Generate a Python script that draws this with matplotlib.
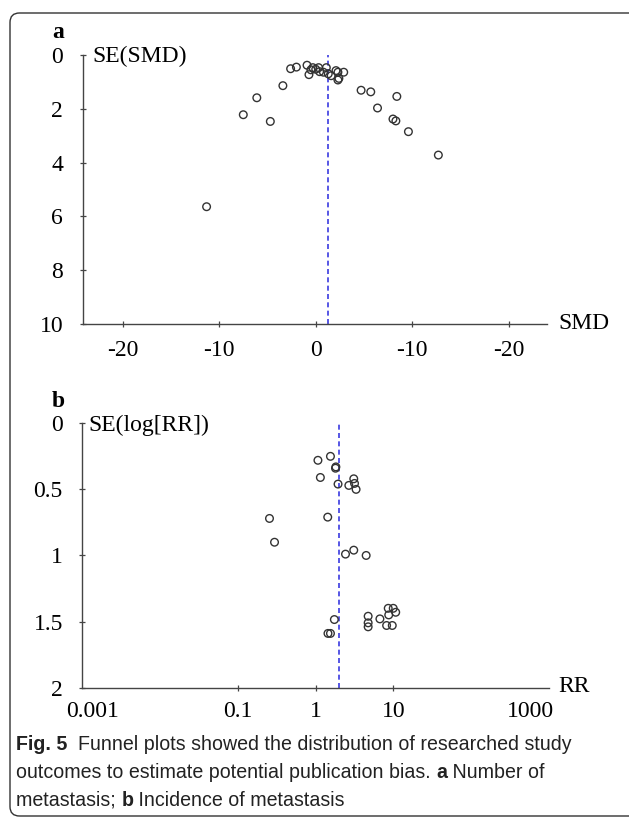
import matplotlib
matplotlib.use("Agg")
import matplotlib.pyplot as plt
from matplotlib.patches import FancyBboxPatch
import matplotlib.transforms as mtransforms

W, H = 629, 818
DPI = 100

# ---------------- data ----------------
# Panel a: SMD vs SE(SMD)
smd = [-6.1, -7.5, -11.3, -4.7, -3.4, -2.6, -2.0, -0.9, -0.7, -0.3, 0.0, 0.3, 0.4,
       0.8, 1.1, 1.6, 2.1, 2.3, 2.9, 2.3, 2.4, 4.7, 5.7, 8.4, 6.4, 8.0, 8.3, 9.6, 12.7,
       -0.5, 1.3]
se_smd = [1.59, 2.22, 5.64, 2.47, 1.14, 0.51, 0.45, 0.38, 0.73, 0.47, 0.53, 0.47, 0.62,
          0.64, 0.47, 0.77, 0.58, 0.64, 0.64, 0.93, 0.87, 1.31, 1.37, 1.54, 1.97, 2.38,
          2.45, 2.85, 3.72, 0.55, 0.70]
smd_pooled = 1.23
smd_ticks = [-20, -10, 0, 10, 20]
smd_ticklabels = ["-20", "-10", "0", "-10", "-20"]
se_smd_ticks = [0, 2, 4, 6, 8, 10]

# Panel b: RR vs SE(log[RR])
rr = [1.07, 1.55, 1.80, 1.82, 1.15, 1.94, 2.67, 3.09, 3.16, 3.31, 0.255, 1.43, 0.296,
      2.42, 3.09, 4.46, 1.74, 1.44, 1.55, 4.73, 4.73, 4.73, 6.7, 8.57, 9.94, 10.7,
      8.7, 8.17, 9.66]
se_logrr = [0.28, 0.25, 0.34, 0.33, 0.41, 0.46, 0.47, 0.42, 0.455, 0.50, 0.72, 0.71,
            0.90, 0.99, 0.96, 1.00, 1.485, 1.59, 1.59, 1.46, 1.51, 1.54, 1.48, 1.40,
            1.40, 1.43, 1.45, 1.53, 1.53]
rr_pooled = 2.0
rr_ticks = [0.1, 1, 10]
rr_ticklabels = ["0.1", "1", "10"]
rr_endlabels = ["0.001", "1000"]
se_rr_ticks = [0, 0.5, 1, 1.5, 2]
se_rr_ticklabels = ["0", "0.5", "1", "1.5", "2"]

# ---------------- figure ----------------
fig = plt.figure(figsize=(W / DPI, H / DPI), dpi=DPI)

def fx(px):
    return px / W

def fy(py):
    return 1 - py / H

def axes_px(left, top, right, bottom):
    return fig.add_axes([fx(left), fy(bottom), (right - left) / W, (bottom - top) / H])

serif = ["Liberation Serif", "DejaVu Serif"]
FS = 17
axcol = "#444444"
ptcol = "#333333"
dashcol = "#3a3ae0"

def style(ax):
    for s in ["top", "right"]:
        ax.spines[s].set_visible(False)
    for s in ["left", "bottom"]:
        ax.spines[s].set_color(axcol)
        ax.spines[s].set_linewidth(1.0)
    ax.tick_params(direction="inout", length=4, width=0.9, color=axcol,
                   labelsize=FS, labelcolor="black")
    ax.tick_params(axis="y", pad=12)
    for lab in ax.get_xticklabels() + ax.get_yticklabels():
        lab.set_family(serif)
    ax.patch.set_alpha(0)

# Panel a
axa = axes_px(82.5, 55, 547, 324)
axa.scatter(smd, se_smd, s=30, facecolors="none", edgecolors=ptcol, linewidths=1.0, zorder=3)
axa.axvline(smd_pooled, ymin=0, ymax=1, color=dashcol, lw=1.2, ls=(0, (3, 2)), zorder=2)
axa.set_xlim(-24.15, 23.95)
axa.set_ylim(10, 0)
axa.set_xticks(smd_ticks)
axa.set_xticklabels(smd_ticklabels)
axa.set_yticks(se_smd_ticks)
axa.set_yticklabels([str(t) for t in se_smd_ticks])
style(axa)
axa.tick_params(axis="x", pad=9.5)

# Panel b
axb = axes_px(82.3, 423.3, 549, 687.6)
axb.scatter(rr, se_logrr, s=30, facecolors="none", edgecolors=ptcol, linewidths=1.0, zorder=3)
axb.axvline(rr_pooled, ymin=0, ymax=1, color=dashcol, lw=1.2, ls=(0, (3, 2)), zorder=2)
axb.set_xscale("log")
axb.set_xlim(0.001, 1000)
axb.set_ylim(2, 0)
axb.set_xticks(rr_ticks)
axb.set_xticklabels(rr_ticklabels)
axb.xaxis.set_minor_locator(matplotlib.ticker.NullLocator())
axb.set_yticks(se_rr_ticks)
axb.set_yticklabels(se_rr_ticklabels)
style(axb)
axb.tick_params(axis="x", pad=8)
# end labels of the RR axis sit slightly inside the axis ends
off = mtransforms.offset_copy(axb.transAxes, fig=fig, x=0, y=-9.5, units="points")
axb.text((93 - 82.3) / (549 - 82.3), 0, rr_endlabels[0], transform=off,
         family=serif, fontsize=FS, ha="center", va="top")
axb.text((530 - 82.3) / (549 - 82.3), 0, rr_endlabels[1], transform=off,
         family=serif, fontsize=FS, ha="center", va="top")

# axis titles
fig.text(fx(92), fy(56), "SE(SMD)", family=serif, fontsize=FS, va="center", ha="left")
fig.text(fx(558), fy(324), "SMD", family=serif, fontsize=FS, va="center", ha="left")
fig.text(fx(88), fy(425), "SE(log[RR])", family=serif, fontsize=FS, va="center", ha="left")
fig.text(fx(558), fy(687), "RR", family=serif, fontsize=FS, va="center", ha="left")
fig.text(fx(52), fy(38), "a", family=serif, fontsize=FS, fontweight="bold", va="baseline", ha="left")
fig.text(fx(52), fy(407), "b", family=serif, fontsize=FS, fontweight="bold", va="baseline", ha="left")

# frame
frame = FancyBboxPatch((fx(10), fy(816)), fx(640) - fx(10), fy(13) - fy(816),
                       boxstyle="round,pad=0,rounding_size=0.015",
                       transform=fig.transFigure, fill=False, ec="#333333", lw=1.0,
                       mutation_aspect=W / H)
fig.patches.append(frame)

# caption with mixed bold
capfam = ["Liberation Sans Narrow", "Liberation Sans", "DejaVu Sans"]
CFS = 14.1
lines = [
    [("Fig. 5", True), ("  Funnel plots showed the distribution of researched study", False)],
    [("outcomes to estimate potential publication bias. ", False), ("a", True), (" Number of", False)],
    [("metastasis; ", False), ("b", True), (" Incidence of metastasis", False)],
]
baselines = [750, 778, 806]
renderer = fig.canvas.get_renderer()
for parts, yb in zip(lines, baselines):
    x = 16
    for txt, bold in parts:
        t = fig.text(fx(x), fy(yb), txt, family=capfam, fontsize=CFS,
                     fontweight="bold" if bold else "normal", va="baseline", ha="left",
                     color="#222222")
        bb = t.get_window_extent(renderer=renderer)
        x += bb.width

fig.savefig("out.png", dpi=DPI)
